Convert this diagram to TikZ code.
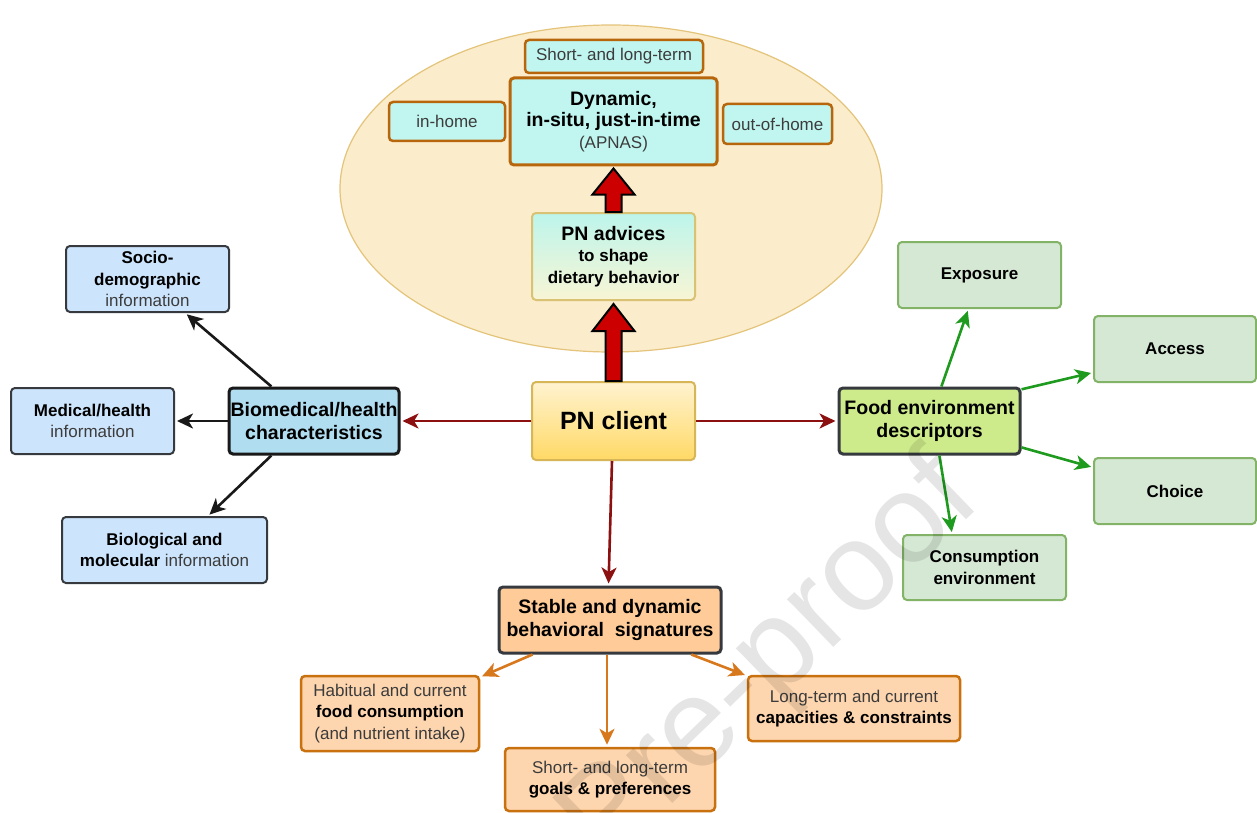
\documentclass[tikz,border=0pt]{standalone}
\usepackage{fontspec}
\setmainfont{Liberation Sans}
\usetikzlibrary{arrows.meta,calc}
\definecolor{ellfill}{HTML}{FBECCB}
\definecolor{elldraw}{HTML}{E3C47A}
\definecolor{cyanf}{HTML}{C0F6EF}
\definecolor{brownb}{HTML}{B8660C}
\definecolor{advtop}{HTML}{BDF5EC}
\definecolor{advbot}{HTML}{F8F5D4}
\definecolor{goldb}{HTML}{D9C274}
\definecolor{clitop}{HTML}{FFF3D0}
\definecolor{clibot}{HTML}{FFD966}
\definecolor{clib}{HTML}{D6B656}
\definecolor{biof}{HTML}{B1DDF0}
\definecolor{bluef}{HTML}{CDE5FC}
\definecolor{darkb}{HTML}{36393D}
\definecolor{foodf}{HTML}{CDEB8B}
\definecolor{greenf}{HTML}{D5E8D4}
\definecolor{greenb}{HTML}{82B366}
\definecolor{stablef}{HTML}{FFCC99}
\definecolor{orf}{HTML}{FDD5AE}
\definecolor{orb}{HTML}{C9700F}
\definecolor{redarr}{HTML}{8C1010}
\definecolor{greenarr}{HTML}{1E9A1E}
\definecolor{orarr}{HTML}{D8781C}
\definecolor{fatred}{HTML}{CC0000}
\definecolor{txtgray}{HTML}{3C3C3C}
\newcommand\fa{\fontsize{17}{21.5}\selectfont}
\newcommand\fb{\fontsize{19.5}{23.5}\selectfont\bfseries}
\newcommand\gr[1]{\textcolor{txtgray}{#1}}
\begin{document}
\begin{tikzpicture}[x=1pt,y=-1pt,
  box/.style={rounded corners=4pt, align=center, inner sep=0pt, font=\fa, text=black},
  cyanbox/.style={box, fill=cyanf, draw=brownb, line width=2.5pt},
  bluebox/.style={box, fill=bluef, draw=darkb, line width=2pt},
  greenbox/.style={box, fill=greenf, draw=greenb, line width=2pt},
  orbox/.style={box, fill=orf, draw=orb, line width=2.5pt},
  mainbox/.style={box, draw=darkb, line width=3pt, font=\fb},
  tip/.style={-{Stealth[length=16pt,width=15pt,inset=4.5pt]}, line width=2.6pt, shorten >=2pt},
  redline/.style={tip, draw=redarr},
  blackline/.style={tip, draw=black!90},
  greenline/.style={tip, draw=greenarr},
  orline/.style={tip, draw=orarr},
  fat/.style={fill=fatred, draw=black, line width=2pt, line join=miter}
]
\useasboundingbox (0,0) rectangle (1257,813);
\fill[white] (0,0) rectangle (1257,813);

% ellipse
\draw[fill=ellfill, draw=elldraw, line width=1.2pt] (611,188.5) ellipse [x radius=271pt, y radius=163.5pt];

% top cluster
\node[cyanbox, minimum width=178, minimum height=33] (short) at (614,56.5) {\gr{Short- and long-term}};
\node[cyanbox, line width=3pt, minimum width=207, minimum height=87] (dyn) at (613.5,121.5)
  {{\fb Dynamic,}\\{\fb in-situ, just-in-time}\\\gr{(APNAS)}};
\node[cyanbox, minimum width=116, minimum height=39] (inhome) at (447,121.5) {\gr{in-home}};
\node[cyanbox, minimum width=109, minimum height=40] (outhome) at (777.5,124) {\gr{out-of-home}};
\node[box, top color=advtop, bottom color=advbot, draw=goldb, line width=2pt,
  minimum width=163, minimum height=87] (adv) at (613.5,256.5)
  {{\fb PN advices}\\\textbf{to shape}\\\textbf{dietary behavior}};

% center
\node[box, top color=clitop, bottom color=clibot, draw=clib, line width=2pt,
  minimum width=163, minimum height=78, font=\fontsize{25}{30}\selectfont\bfseries] (client) at (613.5,421) {PN client};

% left
\node[mainbox, fill=biof, draw=black!90, minimum width=170, minimum height=66] (bio) at (314,421)
  {Biomedical/health\\characteristics};
\node[bluebox, minimum width=163, minimum height=66] (socio) at (147.5,279)
  {\textbf{Socio-}\\\textbf{demographic}\\\gr{information}};
\node[bluebox, minimum width=163, minimum height=66] (med) at (92.5,421)
  {\textbf{Medical/health}\\\gr{information}};
\node[bluebox, minimum width=205, minimum height=66] (biol) at (164.5,550)
  {\textbf{Biological and}\\\textbf{molecular} \gr{information}};

% right
\node[mainbox, fill=foodf, minimum width=181, minimum height=66] (food) at (929.5,421)
  {Food environment\\descriptors};
\node[greenbox, minimum width=163, minimum height=66] (expo) at (979.5,275) {\textbf{Exposure}};
\node[greenbox, minimum width=162, minimum height=66] (access) at (1175,349) {\textbf{Access}};
\node[greenbox, minimum width=162, minimum height=66] (choice) at (1175,491) {\textbf{Choice}};
\node[greenbox, minimum width=163, minimum height=65] (cons) at (984.5,567.5)
  {\textbf{Consumption}\\\textbf{environment}};

% bottom
\node[mainbox, fill=stablef, minimum width=222, minimum height=66] (stable) at (610,620)
  {Stable and dynamic\\behavioral\ \ signatures};
\node[orbox, minimum width=178, minimum height=75] (habit) at (390,713.5)
  {\gr{Habitual and current}\\\textbf{food consumption}\\\gr{(and nutrient intake)}};
\node[orbox, minimum width=212, minimum height=65] (longt) at (854,708.5)
  {\gr{Long-term and current}\\\textbf{capacities \& constraints}};
\node[orbox, minimum width=210, minimum height=63] (goals) at (610,779.5)
  {\gr{Short- and long-term}\\\textbf{goals \& preferences}};

% fat arrows
\draw[fat] ([xshift=-8pt]adv.north) -- ([xshift=-8pt,yshift=-28pt]dyn.south)
  -- ([xshift=-21pt,yshift=-28pt]dyn.south) -- ([yshift=-2pt]dyn.south)
  -- ([xshift=21pt,yshift=-28pt]dyn.south) -- ([xshift=8pt,yshift=-28pt]dyn.south)
  -- ([xshift=8pt]adv.north) -- cycle;
\draw[fat] ([xshift=-8pt]client.north) -- ([xshift=-8pt,yshift=-30pt]adv.south)
  -- ([xshift=-21pt,yshift=-30pt]adv.south) -- ([yshift=-3pt]adv.south)
  -- ([xshift=21pt,yshift=-30pt]adv.south) -- ([xshift=8pt,yshift=-30pt]adv.south)
  -- ([xshift=8pt]client.north) -- cycle;

% connectors
\draw[redline] (client.west) -- (bio.east);
\draw[redline] (client.east) -- (food.west);
\draw[redline] ([xshift=-1.5pt]client.south) -- ([xshift=-1.5pt]stable.north);

\draw[blackline] (bio.141) -- (socio.318);
\draw[blackline] (bio.west) -- (med.east);
\draw[blackline] (bio.219) -- (biol.38);

\draw[greenline] (food.71) -- (expo.252);
\draw[greenline] (food.19) -- (access.196);
\draw[greenline] (food.-16) -- (choice.164);
\draw[greenline] (food.-74) -- (cons.134);

\draw[orline] (stable.204) -- (habit.22);
\draw[orline] ([xshift=-3pt]stable.south) -- ([xshift=-3pt]goals.north);
\draw[orline] (stable.337) -- (longt.163);

% watermark
\node[rotate=44, text=black, opacity=0.1, font=\fontsize{126}{126}\selectfont] (wm) at (772,662) {Pre-proof};
\end{tikzpicture}
\end{document}
